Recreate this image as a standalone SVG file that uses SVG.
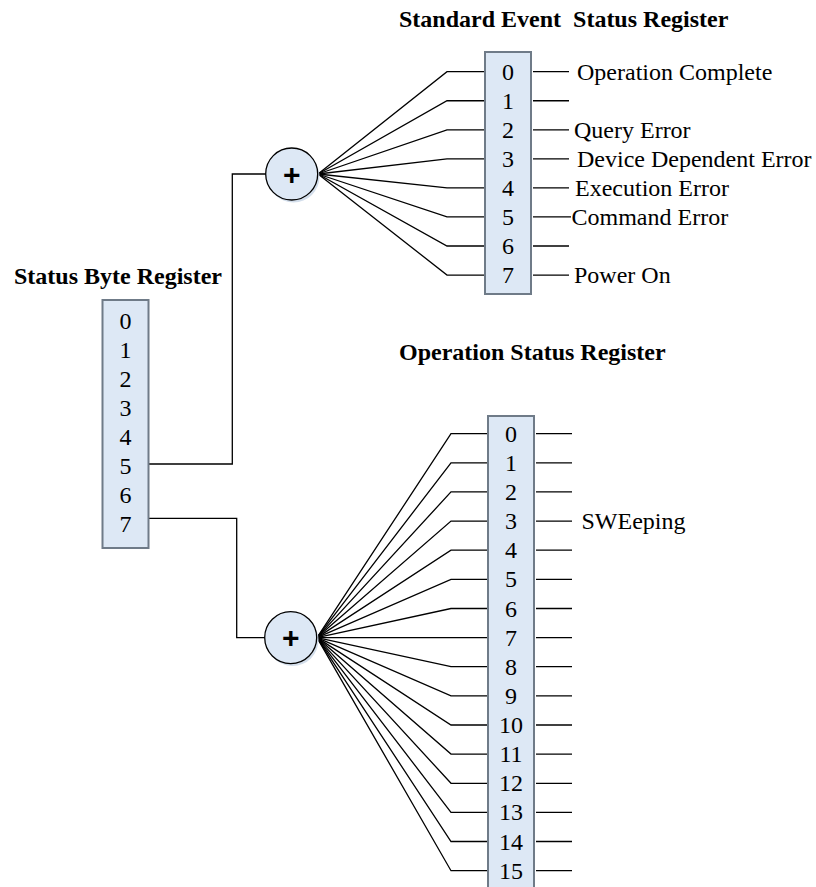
<svg xmlns="http://www.w3.org/2000/svg" width="816" height="887" viewBox="0 0 816 887">
<style>
.reg{fill:#dde8f5;stroke:#6f7b88;stroke-width:2}
.sum{fill:#dde8f5;stroke:#000;stroke-width:1.3}
.shadow{fill:#d3deeb}
.w{fill:none;stroke:#000;stroke-width:1.3}
.t{font-family:"Liberation Serif","Times New Roman",serif;font-size:24px;fill:#000}
.d{font-family:"Liberation Serif","Times New Roman",serif;font-size:24px;fill:#000;text-anchor:middle}
.h{font-family:"Liberation Serif","Times New Roman",serif;font-size:24px;font-weight:bold;fill:#000}
.p{font-family:"Liberation Sans",Arial,sans-serif;font-size:30px;font-weight:bold;fill:#000;text-anchor:middle}
</style>
<rect width="816" height="887" fill="#fff"/>
<g id="connectors">
<polyline class="w" points="148,464 232.3,464 232.3,174 266,174"/>
<polyline class="w" points="148,518.3 236.7,518.3 236.7,637.6 265,637.6"/>
<polyline class="w" points="318,174 447,71.7 485,71.7"/>
<polyline class="w" points="318,174 447,100.75 485,100.75"/>
<polyline class="w" points="318,174 447,129.8 485,129.8"/>
<polyline class="w" points="318,174 447,158.85 485,158.85"/>
<polyline class="w" points="318,174 447,187.9 485,187.9"/>
<polyline class="w" points="318,174 447,216.95 485,216.95"/>
<polyline class="w" points="318,174 447,246 485,246"/>
<polyline class="w" points="318,174 447,275.05 485,275.05"/>
<line class="w" x1="533" y1="71.7" x2="569" y2="71.7"/>
<line class="w" x1="533" y1="100.75" x2="569" y2="100.75"/>
<line class="w" x1="533" y1="129.8" x2="569" y2="129.8"/>
<line class="w" x1="533" y1="158.85" x2="569" y2="158.85"/>
<line class="w" x1="533" y1="187.9" x2="569" y2="187.9"/>
<line class="w" x1="533" y1="216.95" x2="571" y2="216.95"/>
<line class="w" x1="533" y1="246" x2="569" y2="246"/>
<line class="w" x1="533" y1="275.05" x2="569" y2="275.05"/>
<polyline class="w" points="317,637.6 451,433.7 488,433.7"/>
<polyline class="w" points="317,637.6 451,462.8 488,462.8"/>
<polyline class="w" points="317,637.6 451,491.9 488,491.9"/>
<polyline class="w" points="317,637.6 451,521.1 488,521.1"/>
<polyline class="w" points="317,637.6 451,550.2 488,550.2"/>
<polyline class="w" points="317,637.6 451,579.4 488,579.4"/>
<polyline class="w" points="317,637.6 451,608.5 488,608.5"/>
<polyline class="w" points="317,637.6 451,637.6 488,637.6"/>
<polyline class="w" points="317,637.6 451,666.7 488,666.7"/>
<polyline class="w" points="317,637.6 451,695.9 488,695.9"/>
<polyline class="w" points="317,637.6 451,725 488,725"/>
<polyline class="w" points="317,637.6 451,754.1 488,754.1"/>
<polyline class="w" points="317,637.6 451,783.3 488,783.3"/>
<polyline class="w" points="317,637.6 451,812.4 488,812.4"/>
<polyline class="w" points="317,637.6 451,841.5 488,841.5"/>
<polyline class="w" points="317,637.6 451,870.7 488,870.7"/>
<line class="w" x1="536" y1="433.7" x2="572" y2="433.7"/>
<line class="w" x1="536" y1="462.8" x2="572" y2="462.8"/>
<line class="w" x1="536" y1="491.9" x2="572" y2="491.9"/>
<line class="w" x1="536" y1="521.1" x2="572" y2="521.1"/>
<line class="w" x1="536" y1="550.2" x2="572" y2="550.2"/>
<line class="w" x1="536" y1="579.4" x2="572" y2="579.4"/>
<line class="w" x1="536" y1="608.5" x2="572" y2="608.5"/>
<line class="w" x1="536" y1="637.6" x2="572" y2="637.6"/>
<line class="w" x1="536" y1="666.7" x2="572" y2="666.7"/>
<line class="w" x1="536" y1="695.9" x2="572" y2="695.9"/>
<line class="w" x1="536" y1="725" x2="572" y2="725"/>
<line class="w" x1="536" y1="754.1" x2="572" y2="754.1"/>
<line class="w" x1="536" y1="783.3" x2="572" y2="783.3"/>
<line class="w" x1="536" y1="812.4" x2="572" y2="812.4"/>
<line class="w" x1="536" y1="841.5" x2="572" y2="841.5"/>
<line class="w" x1="536" y1="870.7" x2="572" y2="870.7"/>
</g>
<g id="status-byte-register">
<text class="h" x="14" y="284">Status Byte Register</text>
<rect class="reg" x="102.5" y="300" width="46" height="248"/>
<text class="d" x="125.5" y="328.7">0</text>
<text class="d" x="125.5" y="357.8">1</text>
<text class="d" x="125.5" y="386.9">2</text>
<text class="d" x="125.5" y="416">3</text>
<text class="d" x="125.5" y="445.1">4</text>
<text class="d" x="125.5" y="474.2">5</text>
<text class="d" x="125.5" y="503.3">6</text>
<text class="d" x="125.5" y="532.4">7</text>
</g>
<g id="sum-event">
<circle class="shadow" cx="293.5" cy="176.5" r="26"/>
<circle class="sum" cx="291.7" cy="174" r="26"/>
<text class="p" x="291.7" y="184.5">+</text>
</g>
<g id="sum-operation">
<circle class="shadow" cx="292.5" cy="640" r="26"/>
<circle class="sum" cx="290.7" cy="637.6" r="26"/>
<text class="p" x="290.7" y="648">+</text>
</g>
<g id="standard-event-status-register">
<text class="h" x="399" y="27" xml:space="preserve">Standard Event  Status Register</text>
<rect class="reg" x="485" y="52" width="46" height="242"/>
<text class="d" x="508" y="79.7">0</text>
<text class="d" x="508" y="108.75">1</text>
<text class="d" x="508" y="137.8">2</text>
<text class="d" x="508" y="166.85">3</text>
<text class="d" x="508" y="195.9">4</text>
<text class="d" x="508" y="224.95">5</text>
<text class="d" x="508" y="254">6</text>
<text class="d" x="508" y="283.05">7</text>
<text class="t" x="577" y="79.7">Operation Complete</text>
<text class="t" x="574" y="137.8">Query Error</text>
<text class="t" x="577" y="166.85">Device Dependent Error</text>
<text class="t" x="575" y="195.9">Execution Error</text>
<text class="t" x="571.5" y="224.95">Command Error</text>
<text class="t" x="574" y="283.05">Power On</text>
</g>
<g id="operation-status-register">
<text class="h" x="399" y="360">Operation Status Register</text>
<rect class="reg" x="488" y="416" width="46" height="480"/>
<text class="d" x="511" y="441.7">0</text>
<text class="d" x="511" y="470.8">1</text>
<text class="d" x="511" y="499.9">2</text>
<text class="d" x="511" y="529.1">3</text>
<text class="d" x="511" y="558.2">4</text>
<text class="d" x="511" y="587.4">5</text>
<text class="d" x="511" y="616.5">6</text>
<text class="d" x="511" y="645.6">7</text>
<text class="d" x="511" y="674.7">8</text>
<text class="d" x="511" y="703.9">9</text>
<text class="d" x="511" y="733">10</text>
<text class="d" x="511" y="762.1">11</text>
<text class="d" x="511" y="791.3">12</text>
<text class="d" x="511" y="820.4">13</text>
<text class="d" x="511" y="849.5">14</text>
<text class="d" x="511" y="878.7">15</text>
<text class="t" x="581.5" y="529.1">SWEeping</text>
</g>
</svg>
